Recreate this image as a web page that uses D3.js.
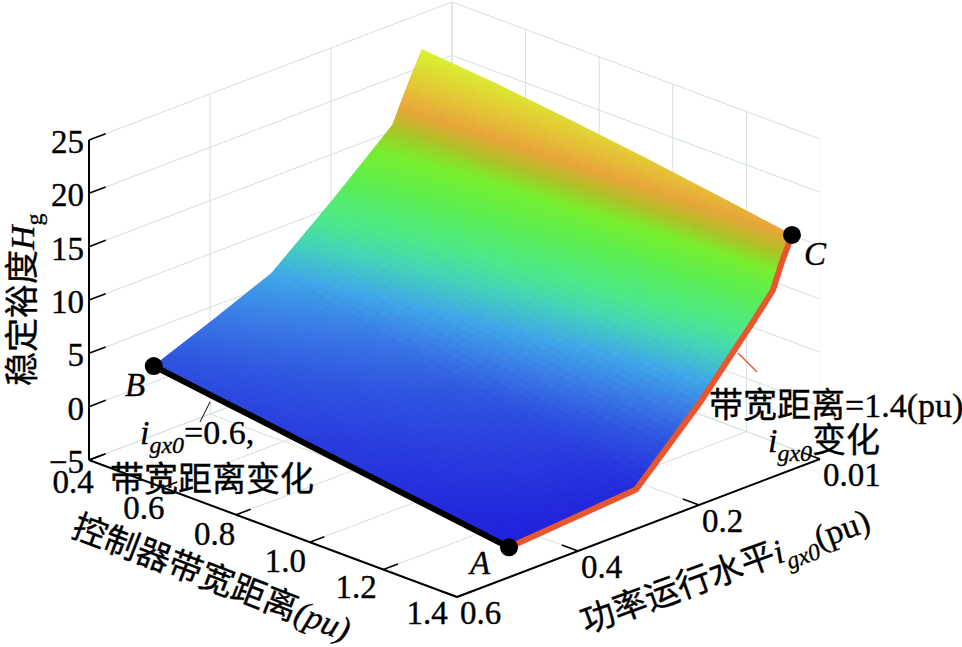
<!DOCTYPE html>
<html><head><meta charset="utf-8">
<script src="https://cdnjs.cloudflare.com/ajax/libs/d3/7.8.5/d3.min.js"></script>
<style>
html,body{margin:0;padding:0;background:#fff}
svg{display:block}
text{font-family:"Liberation Serif","Noto Sans CJK SC",serif;fill:#000;stroke:#000;stroke-width:0.35px}
</style></head><body>
<svg id="c" width="962" height="647"></svg>
<script>
// ---- data ----
const bandwidths = [0.4, 0.6, 0.8, 1.0, 1.2, 1.4];
const bandwidthTicks = [0.4, 0.6, 0.8, 1.0, 1.2, 1.4];
const powerTicks = [0.6, 0.4, 0.2, 0.01];
const heightTicks = [-5, 0, 5, 10, 15, 20, 25];
// power level of each surface row along the two outer edges
const powerAtB04 = [0.493, 0.395, 0.298, 0.197, 0.103, 0.084, 0.070, 0.057];
const powerAtB14 = [0.514, 0.396, 0.304, 0.198, 0.113, 0.084, 0.070, 0.054];
// stability margin, one list per row, one value per bandwidth
const marginRow1 = [1.5, 0.76, 0.02, -0.72, -1.46, -2.2];
const marginRow2 = [3.7, 2.6, 1.6, 0.6, -0.5, -1.7];
const marginRow3 = [6.0, 4.5, 3.1, 1.8, 0.3, -1.3];
const marginRow4 = [10.7, 9.4, 8.2, 7.0, 5.8, 4.6];
const marginRow5 = [15.6, 14.6, 13.6, 12.5, 11.5, 10.4];
const marginRow6 = [18.2, 17.1, 16.0, 14.8, 13.7, 12.5];
const marginRow7 = [20.0, 18.95, 17.9, 16.9, 15.85, 14.8];
const marginRow8 = [21.6, 20.95, 20.1, 19.15, 18.1, 17.0];
const margins = [marginRow1, marginRow2, marginRow3, marginRow4, marginRow5, marginRow6, marginRow7, marginRow8];
const colourLevels = [-2.2, 2, 4, 6, 8, 9.5, 12, 14, 15.5, 17, 19, 21.6];
const colourValues = ["#1f1fdc","#2f55e0","#3a7ce6","#3fa8e8","#44d4b8","#4be88c","#5cee50","#78ee2c","#b0c025","#e8a53a","#e4c835","#d8f22f"];

// ---- scales: oblique projection built from three linear axes ----
const uScale = d3.scaleLinear().domain([0.4, 1.4]).range([0, 1]);
const tScale = d3.scaleLinear().domain([0.6, 0.4, 0.2, 0.01]).range([0, 1/3, 2/3, 1]);
const zScale = d3.scaleLinear().domain([-5, 25]).range([0, -320]);
const colour = d3.scaleLinear().domain(colourLevels).range(colourValues).clamp(true);
const O = [89, 460], U = [368, 137], T = [363, -138];
const projUT = (u, t, z) => [O[0] + U[0]*u + T[0]*t, O[1] + U[1]*u + T[1]*t + z];
const proj = (b, p, h) => projUT(uScale(b), tScale(p), zScale(h));
const Z0 = zScale(-5);

const svg = d3.select("#c");
const gridCol = "#d5dfe2";
const seg = (g, a, b, col, w) => g.append("line").attr("x1", a[0]).attr("y1", a[1]).attr("x2", b[0]).attr("y2", b[1]).attr("stroke", col).attr("stroke-width", w);

// ---- grid ----
const grid = svg.append("g");
heightTicks.forEach(h => {
  const z = zScale(h);
  seg(grid, projUT(0, 0, z), projUT(0, 1, z), gridCol, 1);
  seg(grid, projUT(0, 1, z), projUT(1, 1, z), gridCol, 1);
});
powerTicks.forEach(p => {
  const t = tScale(p);
  seg(grid, projUT(0, t, Z0), projUT(0, t, zScale(25)), gridCol, 1);
  seg(grid, projUT(0, t, Z0), projUT(1, t, Z0), gridCol, 1);
});
bandwidthTicks.forEach(b => {
  const u = uScale(b);
  seg(grid, projUT(u, 1, Z0), projUT(u, 1, zScale(25)), b === 1.4 ? "#f4f6f7" : gridCol, 1);
  seg(grid, projUT(u, 0, Z0), projUT(u, 1, Z0), gridCol, 1);
});

// ---- axes ----
const axes = svg.append("g");
seg(axes, projUT(0, 0, Z0), projUT(0, 0, zScale(25)), "#000", 2);
seg(axes, projUT(0, 0, Z0), projUT(1, 0, Z0), "#000", 2);
seg(axes, projUT(1, 0, Z0), projUT(1, 1, Z0), "#000", 2);
heightTicks.forEach(h => { const z = zScale(h); seg(axes, projUT(0, 0, z), projUT(0, 0.046, z), "#000", 1.6); });
bandwidthTicks.forEach(b => { const u = uScale(b); seg(axes, projUT(u, 0, Z0), projUT(u, 0.04, Z0), "#000", 1.6); });
powerTicks.forEach(p => { const t = tScale(p); seg(axes, projUT(1, t, Z0), projUT(0.956, t, Z0), "#000", 1.6); });

// ---- surface, interpolated shading ----
const rowPower = (r, c) => { const f = uScale(bandwidths[c]); return powerAtB04[r]*(1-f) + powerAtB14[r]*f; };
const surface = svg.append("g");
const NC = 8, NR = 14;
for (let r = 0; r < margins.length - 1; r++) for (let c = 0; c < bandwidths.length - 1; c++) {
  const at = (fc, fr) => {
    const b = bandwidths[c] + (bandwidths[c+1]-bandwidths[c])*fc;
    const t0 = tScale(rowPower(r, c))*(1-fc) + tScale(rowPower(r, c+1))*fc;
    const t1 = tScale(rowPower(r+1, c))*(1-fc) + tScale(rowPower(r+1, c+1))*fc;
    const h0 = margins[r][c]*(1-fc) + margins[r][c+1]*fc;
    const h1 = margins[r+1][c]*(1-fc) + margins[r+1][c+1]*fc;
    const h = h0*(1-fr) + h1*fr, t = t0*(1-fr) + t1*fr;
    return { p: projUT(uScale(b), t, zScale(h)), h };
  };
  for (let i = 0; i < NC; i++) for (let j = 0; j < NR; j++) {
    const a = at(i/NC, j/NR), b = at((i+1)/NC, j/NR), d = at((i+1)/NC, (j+1)/NR), e = at(i/NC, (j+1)/NR);
    const col = colour((a.h + b.h + d.h + e.h)/4);
    surface.append("path").attr("d", d3.line()([a.p, b.p, d.p, e.p]) + "Z").attr("fill", col).attr("stroke", col).attr("stroke-width", 1);
  }
}

// ---- highlighted edges and points ----
const last = bandwidths.length - 1;
const rightEdge = margins.map((row, r) => proj(1.4, powerAtB14[r], row[last]));
const nearEdge = bandwidths.map((b, c) => proj(b, rowPower(0, c), margins[0][c]));
svg.append("path").attr("d", d3.line()(rightEdge)).attr("fill", "none").attr("stroke", "#e8562f").attr("stroke-width", 6).attr("stroke-linejoin", "round");
svg.append("path").attr("d", d3.line()(nearEdge)).attr("fill", "none").attr("stroke", "#000").attr("stroke-width", 6);
const markers = [nearEdge[0], nearEdge[last], rightEdge[rightEdge.length-1]];
svg.selectAll("circle.m").data(markers).enter().append("circle").attr("class", "m").attr("cx", d => d[0]).attr("cy", d => d[1]).attr("r", 9).attr("fill", "#000");

// leader lines
seg(svg, [210, 402], [200, 422], "#000", 1);
seg(svg, [738, 353], [757, 372], "#e8562f", 1.5);

// ---- text ----
const FS = 33, TITLE = 34;
const txt = (x, y, s, anchor, rot, fs) => {
  const t = svg.append("text").attr("font-size", fs || FS).attr("text-anchor", anchor || "start");
  t.attr("transform", `translate(${x},${y})` + (rot ? ` rotate(${rot})` : ""));
  if (s) t.text(s);
  return t;
};
const span = (t, s, o) => {
  o = o || {};
  const n = t.append("tspan").text(s);
  if (o.it) n.attr("font-style", "italic");
  if (o.dy) n.attr("dy", o.dy);
  if (o.fs) n.attr("font-size", o.fs);
  return n;
};
const subI = (t) => {
  span(t, "i", { it: 1 });
  span(t, "gx0", { it: 1, dy: 9, fs: 24 });
  return t;
};

heightTicks.forEach(h => {
  const pt = projUT(0, 0, zScale(h));
  txt(84, pt[1] + 13, h < 0 ? "\u2212" + Math.abs(h) : String(h), "end");
});
bandwidthTicks.forEach(b => {
  const u = uScale(b), pt = projUT(u, 0, Z0);
  txt(pt[0] - 16 - 14*u, pt[1] + 33 - 6*u, b.toFixed(1), "middle");
});
powerTicks.forEach(p => {
  const pt = projUT(1, tScale(p), Z0);
  txt(pt[0] + 3, pt[1] + 27, String(p));
});

// axis titles
const zt = txt(34, 386, null, "start", -90, TITLE);
span(zt, "稳定裕度");
span(zt, "H", { it: 1 });
span(zt, "g", { dy: 8, fs: 24 });

const bt = txt(70, 536, null, "start", 21, TITLE);
span(bt, "控制器带宽距离");
span(bt, "(pu)", { it: 1 });

const pt = txt(586, 634, null, "start", -20, TITLE);
span(pt, "功率运行水平");
subI(pt);
span(pt, "(pu)", { dy: -9 });

// annotations
const a1 = txt(140, 444, null, "start", 0, TITLE);
subI(a1);
span(a1, "=0.6,", { dy: -9 });
txt(110, 491, "带宽距离变化", "start", 0, TITLE);
txt(709, 417, "带宽距离=1.4(pu)", "start", 0, TITLE);
const a2 = txt(768, 452, null, "start", 0, TITLE);
subI(a2);
span(a2, "变化", { dy: -9 });

// point labels
const lab = (x, y, s) => txt(x, y, s, "middle").attr("font-style", "italic");
lab(135, 396, "B");
lab(480, 574, "A");
lab(815, 265, "C");
</script>
</body></html>
